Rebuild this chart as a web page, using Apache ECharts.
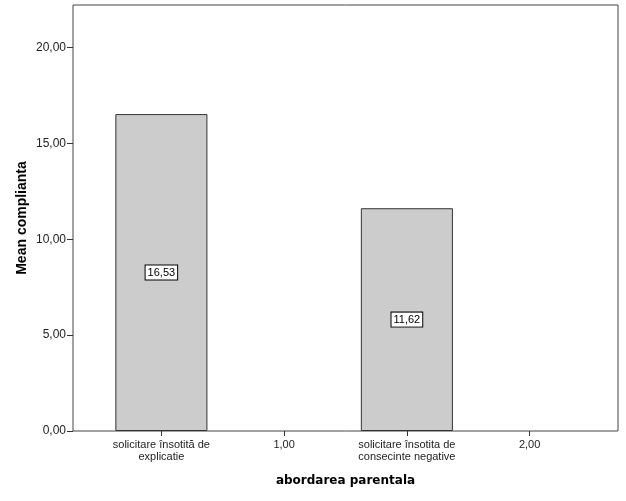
<!DOCTYPE html>
<html>
<head>
<meta charset="utf-8">
<script src="https://cdn.jsdelivr.net/npm/echarts@6/dist/echarts.min.js"></script>
<style>
  html, body { margin: 0; padding: 0; background: #fff; }
  #chart { width: 626px; height: 501px; }
</style>
</head>
<body>
<div id="chart"></div>
<script>
var categories = ['solicitare însotită de\nexplicatie', '1,00', 'solicitare însotita de\nconsecinte negative', '2,00'];
var meanValues = [16.53, null, 11.62, null];
var yTicks = [0, 5, 10, 15, 20];
var yMax = 22.22;

function fmt(v) {
    return v.toFixed(2).replace('.', ',');
}

var myChart = echarts.init(document.getElementById('chart'));
var option = {
    backgroundColor: '#fff',
    animation: false,
    textStyle: { fontFamily: 'Liberation Sans, Arial, sans-serif' },
    grid: [
        { left: 73, right: 8, top: 5, bottom: 70, show: true, borderColor: '#444', borderWidth: 1 },
        { left: 100, right: 35, top: 5, bottom: 70 }
    ],
    xAxis: [
        { gridIndex: 0, type: 'value', min: 0, max: 1, show: false },
        {
            gridIndex: 1,
            type: 'category',
            data: categories,
            axisLine: { show: false },
            axisTick: { show: true, alignWithLabel: true, length: 5, lineStyle: { color: '#333' } },
            axisLabel: { interval: 0, fontSize: 11, lineHeight: 12, color: '#222', margin: 8 },
            name: 'abordarea parentala',
            nameLocation: 'middle',
            nameGap: 44,
            nameTextStyle: { fontFamily: 'DejaVu Sans', fontWeight: 'bold', fontSize: 12, color: '#000' }
        }
    ],
    yAxis: [
        {
            gridIndex: 0,
            type: 'value',
            min: 0,
            max: yMax,
            splitLine: { show: false },
            axisLine: { show: false },
            axisTick: { show: true, length: 6, customValues: yTicks, lineStyle: { color: '#333' } },
            axisLabel: { customValues: yTicks, fontSize: 12, color: '#222', margin: 7, formatter: fmt },
            name: 'Mean complianta',
            nameLocation: 'middle',
            nameGap: 44,
            nameMoveOverlap: false,
            nameTextStyle: { fontWeight: 'bold', fontSize: 14, color: '#000' }
        },
        { gridIndex: 1, type: 'value', min: 0, max: yMax, show: false }
    ],
    series: [
        {
            name: 'Mean complianta',
            type: 'bar',
            xAxisIndex: 1,
            yAxisIndex: 1,
            data: meanValues,
            barWidth: '75%',
            itemStyle: { color: '#cccccc', borderColor: '#333', borderWidth: 1 },
            label: {
                show: true,
                position: 'inside',
                formatter: function (p) { return fmt(p.value); },
                fontSize: 11,
                color: '#000',
                backgroundColor: '#fff',
                borderColor: '#000',
                borderWidth: 1,
                padding: [2, 2, 1, 2]
            }
        }
    ]
};
myChart.setOption(option);
</script>
</body>
</html>
